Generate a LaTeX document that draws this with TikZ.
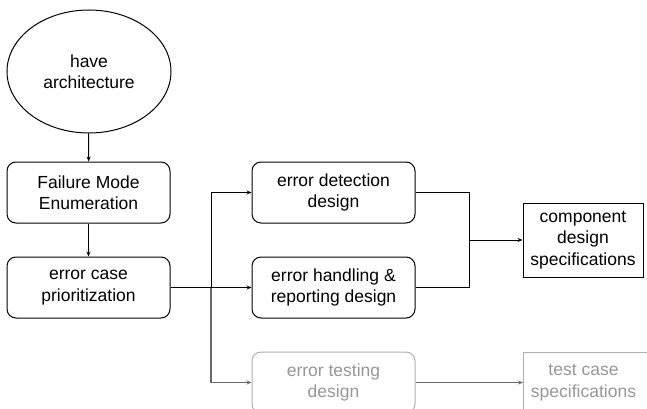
\documentclass[tikz,border=0pt]{standalone}
\usepackage{fontspec}
\setmainfont{Liberation Sans}
\usetikzlibrary{arrows.meta,shapes.geometric,calc}
\definecolor{faint}{RGB}{175,175,175}
\definecolor{fainttext}{RGB}{150,150,150}
\definecolor{midgray}{RGB}{105,105,105}
\tikzset{
  base/.style={draw=black, line width=1pt, align=center, inner sep=0pt,
    font=\fontsize{17.5}{21.5}\selectfont},
  rbox/.style={base, rounded corners=9pt, minimum width=163pt, minimum height=61pt},
  sbox/.style={base, minimum width=120pt, minimum height=74pt},
  oval/.style={base, ellipse, minimum width=164pt, minimum height=123pt},
  faded/.style={draw=faint, text=fainttext},
  conn/.style={line width=1pt, -{Stealth[length=5pt,width=4pt]}},
  plainline/.style={line width=1pt},
  fconn/.style={conn, draw=midgray, line width=1.3pt},
}
\begin{document}
\begin{tikzpicture}[x=1pt,y=-1pt]
\useasboundingbox (0,0) rectangle (647,409);
\clip (0,0) rectangle (647,409);
\node[oval] (arch) at (89,71.5) {have\\architecture};
\node[rbox] (fme) at (88.5,192.5) {Failure Mode\\Enumeration};
\node[rbox] (ecp) at (88.5,287.5) {error case\\prioritization};
\node[rbox] (edd) at (333.5,192.5) {error detection\\design};
\node[rbox] (ehr) at (333.5,287.5) {error handling \&\\reporting design};
\node[rbox, faded] (etd) at (333.5,382.5) {error testing\\design};
\node[sbox, faded, minimum height=61pt, minimum width=130pt, anchor=west] (tcs) at (523,382.5) {\hspace*{-10pt}test case\\\hspace*{-10pt}specifications};
\node[sbox] (cds) at (583,240) {component\\design\\specifications};
\coordinate (split) at (211,287.5);
\coordinate (merge) at (469,240);
\draw[conn] (arch) -- (fme);
\draw[conn] (fme) -- (ecp);
\draw[conn] (ecp.east) -- (ehr.west);
\draw[conn] (ecp.east) -- (split) |- (edd.west);
\draw[fconn] (split) |- (etd.west);
\draw[plainline] (edd.east) -| (merge);
\draw[plainline] (ehr.east) -| (merge);
\draw[conn] (merge) -- (cds.west);
\draw[fconn] (etd.east) -- (tcs.west);
\end{tikzpicture}
\end{document}
